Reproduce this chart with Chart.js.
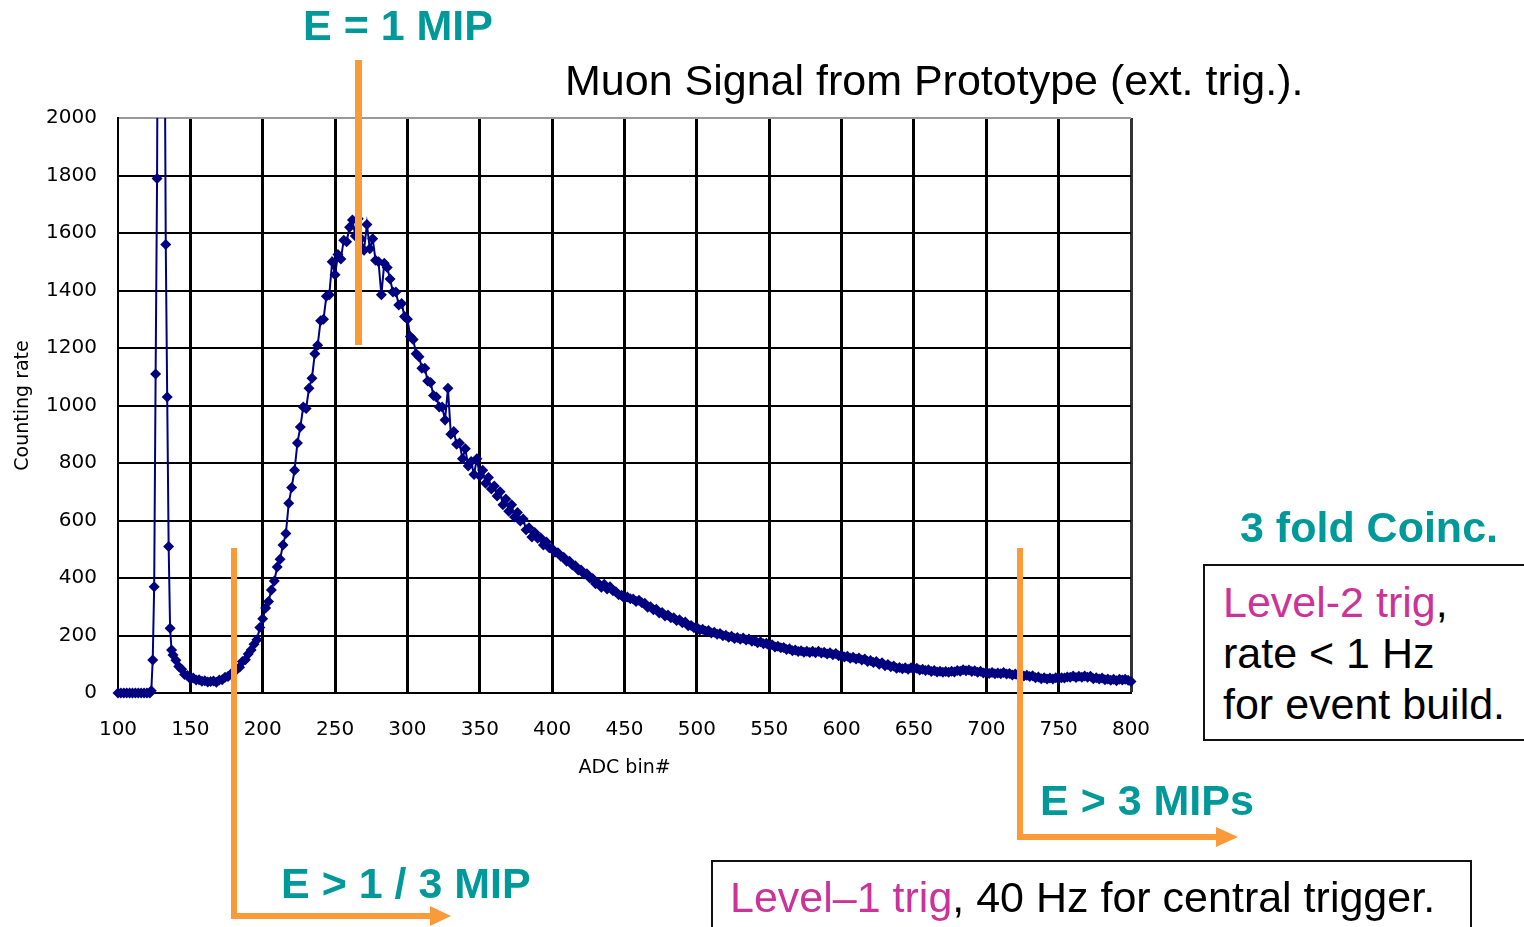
<!DOCTYPE html>
<html>
<head>
<meta charset="utf-8">
<script src="https://cdn.jsdelivr.net/npm/chart.js@4/dist/chart.umd.min.js"></script>
<style>
  html, body { margin: 0; padding: 0; background: #fff; }
  body { width: 1524px; height: 927px; position: relative; overflow: hidden; font-family: "Liberation Sans", Arial, sans-serif; }
  #c { position: absolute; left: 0; top: 0; }
  .t { position: absolute; white-space: nowrap; line-height: 1; }
  .big { font-size: 43px; font-weight: bold; color: #009999; }
  .txt { font-size: 43px; color: #000; }
  .mag { color: #CC3399; }
  .box { position: absolute; border: 2px solid #111; background: #fff; }
  svg { position: absolute; left: 0; top: 0; }
</style>
</head>
<body>
<canvas id="c" width="1524" height="927"></canvas>

<svg width="1524" height="927">
  <rect x="355" y="60" width="7" height="285" fill="#FA9A38"/>
  <polyline points="234,548 234,916 432,916" fill="none" stroke="#FA9A38" stroke-width="6"/>
  <polygon points="430,906 451,916 430,926" fill="#FA9A38"/>
  <polyline points="1020,548 1020,837 1218,837" fill="none" stroke="#FA9A38" stroke-width="6"/>
  <polygon points="1216,827 1238,837 1216,847" fill="#FA9A38"/>
</svg>

<div class="t big" style="left:303px; top:4px;">E = 1 MIP</div>
<div class="t txt" style="left:565px; top:59px;">Muon Signal from Prototype (ext. trig.).</div>
<div class="t big" style="left:1240px; top:506px;">3 fold Coinc.</div>
<div class="box" style="left:1203px; top:564px; width:340px; height:173px;"></div>
<div class="t txt" style="left:1223px; top:581px;"><span class="mag">Level-2 trig</span>,</div>
<div class="t txt" style="left:1223px; top:632px;">rate &lt; 1 Hz</div>
<div class="t txt" style="left:1223px; top:683px;">for event build.</div>
<div class="t big" style="left:1040px; top:779px;">E &gt; 3 MIPs</div>
<div class="t big" style="left:281px; top:862px;">E &gt; 1 / 3 MIP</div>
<div class="box" style="left:711px; top:860px; width:757px; height:100px;"></div>
<div class="t txt" style="left:730px; top:876px;"><span class="mag">Level–1 trig</span>, 40 Hz for central trigger.</div>

<script>
// ======================================
// Data
// ======================================
const adcBins = [
  100, 102, 104, 106, 108, 110, 112, 114, 116, 118, 120, 122,
  123, 124, 125, 126, 127, 128, 129, 130, 131, 132, 133, 134, 135, 136, 137,
  138, 140, 142, 144, 146, 148, 150, 152, 154, 156,
  158, 160, 162, 164, 166, 168, 170, 172, 174, 176,
  178, 180, 182, 184, 186, 188, 190, 192, 194, 196,
  198, 200, 202, 204, 206, 208, 210, 212, 214, 216,
  218, 220, 222, 224, 226, 228, 230, 232, 234, 236,
  238, 240, 242, 244, 246, 248, 250, 252, 254, 256,
  258, 260, 262, 264, 266, 268, 270, 272, 274, 276,
  278, 280, 282, 284, 286, 288, 290, 292, 294, 296,
  298, 300, 302, 304, 306, 308, 310, 312, 314, 316,
  318, 320, 322, 324, 326, 328, 330, 332, 334, 336,
  338, 340, 342, 344, 346, 348, 350, 352, 354, 356,
  358, 360, 362, 364, 366, 368, 370, 372, 374, 376,
  378, 380, 382, 384, 386, 388, 390, 392, 394, 396,
  398, 400, 402, 404, 406, 408, 410, 412, 414, 416,
  418, 420, 422, 424, 426, 428, 430, 432, 434, 436,
  438, 440, 442, 444, 446, 448, 450, 452, 454, 456,
  458, 460, 462, 464, 466, 468, 470, 472, 474, 476,
  478, 480, 482, 484, 486, 488, 490, 492, 494, 496,
  498, 500, 502, 504, 506, 508, 510, 512, 514, 516,
  518, 520, 522, 524, 526, 528, 530, 532, 534, 536,
  538, 540, 542, 544, 546, 548, 550, 552, 554, 556,
  558, 560, 562, 564, 566, 568, 570, 572, 574, 576,
  578, 580, 582, 584, 586, 588, 590, 592, 594, 596,
  598, 600, 602, 604, 606, 608, 610, 612, 614, 616,
  618, 620, 622, 624, 626, 628, 630, 632, 634, 636,
  638, 640, 642, 644, 646, 648, 650, 652, 654, 656,
  658, 660, 662, 664, 666, 668, 670, 672, 674, 676,
  678, 680, 682, 684, 686, 688, 690, 692, 694, 696,
  698, 700, 702, 704, 706, 708, 710, 712, 714, 716,
  718, 720, 722, 724, 726, 728, 730, 732, 734, 736,
  738, 740, 742, 744, 746, 748, 750, 752, 754, 756,
  758, 760, 762, 764, 766, 768, 770, 772, 774, 776,
  778, 780, 782, 784, 786, 788, 790, 792, 794, 796,
  798, 800
];

const countingRate = [
  0, 0, 0, 0, 0, 0, 0, 0, 0, 0, 0, 0,
  8, 115, 370, 1110, 1790, 3200, 4000, 4200, 3800, 2600, 1560, 1030, 510, 225, 150,
  132, 114, 92, 83, 64, 61, 50, 52, 45, 46,
  41, 43, 38, 40, 42, 37, 45, 46, 55, 57,
  66, 71, 84, 90, 110, 116, 136, 150, 170, 185,
  228, 258, 296, 318, 358, 390, 438, 465, 515, 555,
  660, 715, 775, 870, 925, 995, 990, 1060, 1095, 1180,
  1210, 1295, 1300, 1380, 1385, 1500, 1455, 1525, 1510, 1575,
  1570, 1620, 1645, 1590, 1650, 1580, 1540, 1630, 1545, 1580,
  1505, 1500, 1385, 1495, 1480, 1440, 1395, 1395, 1350, 1355,
  1310, 1300, 1240, 1230, 1180, 1170, 1130, 1130, 1085, 1080,
  1035, 1030, 995, 995, 950, 1060, 900, 910, 865, 870,
  815, 850, 790, 805, 760, 815, 755, 775, 730, 750,
  710, 720, 685, 700, 655, 675, 632, 655, 612, 628,
  598, 605, 568, 575, 543, 558, 538, 540, 515, 525,
  505, 502, 490, 488, 476, 472, 458, 458, 445, 443,
  428, 428, 414, 415, 400, 398, 380, 381, 368, 378,
  362, 370, 356, 352, 342, 340, 330, 334, 328, 327,
  318, 323, 314, 312, 298, 300, 290, 291, 278, 280,
  268, 271, 262, 262, 252, 255, 244, 247, 234, 235,
  227, 228, 219, 222, 215, 217, 209, 211, 204, 207,
  199, 201, 194, 197, 190, 193, 187, 191, 184, 188,
  180, 182, 175, 178, 171, 173, 165, 168, 160, 163,
  157, 158, 151, 154, 147, 150, 144, 147, 142, 145,
  141, 145, 140, 145, 139, 142, 136, 140, 133, 137,
  130, 131, 125, 128, 121, 124, 118, 122, 115, 118,
  110, 113, 106, 110, 100, 105, 95, 99, 91, 94,
  86, 89, 84, 88, 83, 88, 84, 86, 80, 83,
  78, 81, 75, 78, 73, 76, 72, 75, 72, 76,
  73, 78, 76, 81, 77, 80, 75, 77, 72, 76,
  70, 73, 68, 71, 67, 70, 67, 71, 66, 68,
  63, 66, 61, 64, 59, 62, 57, 60, 53, 56,
  50, 53, 49, 52, 49, 53, 50, 53, 52, 56,
  55, 59, 54, 58, 55, 59, 55, 58, 50, 53,
  49, 52, 46, 49, 44, 48, 43, 48, 45, 48,
  44, 40
];

const xTicks = [100, 150, 200, 250, 300, 350, 400, 450, 500, 550, 600, 650, 700, 750, 800];
const yTicks = [0, 200, 400, 600, 800, 1000, 1200, 1400, 1600, 1800, 2000];

// ======================================
// Chart
// ======================================
const points = adcBins.map((b, i) => ({ x: b, y: countingRate[i] }));
const navy = '#000080';
const axisFont = { family: "'DejaVu Sans', sans-serif", size: 20 };

new Chart(document.getElementById('c'), {
  type: 'line',
  data: {
    datasets: [{
      data: points,
      borderColor: navy,
      borderWidth: 2,
      backgroundColor: navy,
      pointStyle: 'rectRot',
      pointRadius: 5.5,
      pointBorderWidth: 0,
      pointBackgroundColor: navy,
      tension: 0,
      clip: { left: 10, top: 0, right: 10, bottom: 10 }
    }]
  },
  options: {
    responsive: false,
    animation: false,
    devicePixelRatio: 1,
    layout: { padding: { left: 0, top: 118, right: 393, bottom: 147 } },
    plugins: { legend: { display: false }, tooltip: { enabled: false } },
    scales: {
      x: {
        type: 'linear',
        min: 100, max: 800,
        afterFit: s => { s.height = 87; },
        afterBuildTicks: s => { s.ticks = xTicks.map(v => ({ value: v })); },
        ticks: { font: axisFont, color: '#000', padding: 25, maxRotation: 0, callback: v => String(v) },
        grid: {
          drawTicks: false,
          color: c => c.tick && c.tick.value === 800 ? '#333' : '#000',
          lineWidth: c => c.tick && c.tick.value === 100 ? 2 : 3
        },
        border: { color: '#000', width: 2 },
        title: { display: true, text: 'ADC bin#', font: { family: "'DejaVu Sans', sans-serif", size: 19 }, color: '#000', padding: { bottom: 1 } }
      },
      y: {
        min: 0, max: 2000,
        afterFit: s => { s.width = 118; },
        afterBuildTicks: s => { s.ticks = yTicks.map(v => ({ value: v })); },
        ticks: { font: axisFont, color: '#000', padding: 21, callback: v => String(v) },
        grid: {
          drawTicks: false,
          color: c => c.tick && c.tick.value === 2000 ? '#9a9a9a' : '#000',
          lineWidth: 2
        },
        border: { color: '#000', width: 2 },
        title: { display: true, text: 'Counting rate', font: { family: "'DejaVu Sans', sans-serif", size: 19 }, color: '#000', padding: { top: 12 } }
      }
    }
  }
});
</script>
</body>
</html>
